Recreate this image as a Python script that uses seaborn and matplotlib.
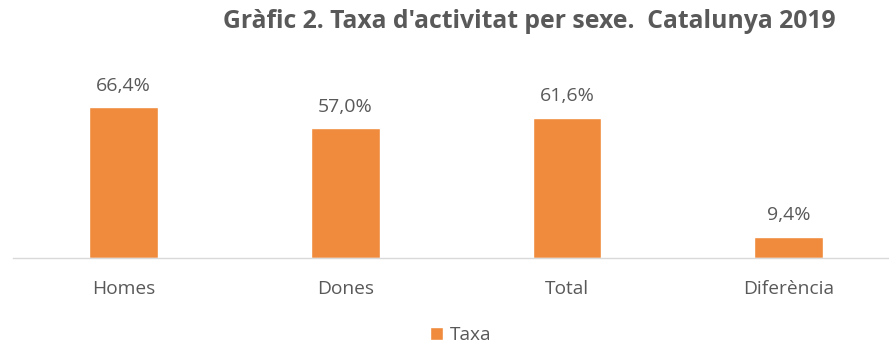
import matplotlib
matplotlib.use("Agg")
import matplotlib.pyplot as plt
import seaborn as sns
import pandas as pd

categories = ["Homes", "Dones", "Total", "Diferència"]
taxa = [66.4, 57.0, 61.6, 9.4]
series_name = "Taxa"

df = pd.DataFrame({"categoria": categories, "valor": taxa, "serie": series_name})

sns.set_style("white")
plt.rcParams["font.family"] = ["Open Sans", "DejaVu Sans"]

W, H = 889, 347
fig = plt.figure(figsize=(W / 100, H / 100), dpi=100)
# axes: baseline at y=258 px from top, category pitch ~221.7 px
left_px, base_px, pitch = 12.7, 258, 221.7
ymax = 70
px_per_unit = 2.274
ax = fig.add_axes([left_px / W, (H - base_px) / H, 4 * pitch / W, ymax * px_per_unit / H])

orange = "#F08B3E"
grey = "#595959"

sns.barplot(data=df, x="categoria", y="valor", hue="serie", palette=[orange],
            width=0.31, ax=ax, legend=True, saturation=1)

ax.set_xlim(-0.5, 3.5)
ax.set_ylim(0, ymax)
for s in ["top", "right", "left"]:
    ax.spines[s].set_visible(False)
ax.spines["bottom"].set_color("#D9D9D9")
ax.spines["bottom"].set_linewidth(1.0)
ax.set_yticks([])
ax.set_xlabel("")
ax.set_ylabel("")
ax.tick_params(axis="x", length=0, pad=16, labelsize=13.8, labelcolor=grey)

for i, v in enumerate(taxa):
    ax.annotate(f"{v:.1f}%".replace(".", ","), (i, v), xytext=(0, 9),
                textcoords="offset points", ha="center", va="bottom",
                fontsize=14, color=grey, clip_on=False)

leg = ax.legend(loc="center", bbox_to_anchor=(461 / W, 1 - 335 / H),
                bbox_transform=fig.transFigure, frameon=False, fontsize=13.8,
                handlelength=0.65, handleheight=0.65, handletextpad=0.4)
for t in leg.get_texts():
    t.set_color(grey)

fig.text(836 / W, 1 - 22 / H, "Gràfic 2. Taxa d'activitat per sexe.  Catalunya 2019",
         ha="right", va="center", fontsize=17.8, fontweight="bold", color=grey)

fig.savefig("out.png", dpi=100, facecolor="white")
